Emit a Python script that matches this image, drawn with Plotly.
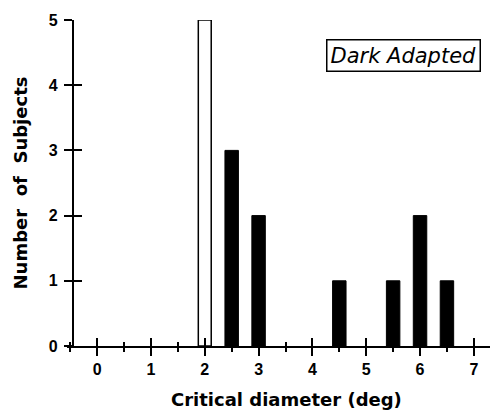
import plotly.graph_objects as go

# Data
open_x = [2.0]
open_y = [5]
dark_x = [2.5, 3.0, 4.5, 5.5, 6.0, 6.5]
dark_y = [3, 2, 1, 1, 2, 1]
x_ticks = [0, 1, 2, 3, 4, 5, 6, 7]
y_ticks = [0, 1, 2, 3, 4, 5]

XR = [-0.56, 7.3]
Y_AXIS_AT = -0.45
YR = [0, 5]
ypos = (Y_AXIS_AT - XR[0]) / (XR[1] - XR[0])

fig = go.Figure()
fig.add_trace(go.Bar(x=open_x, y=open_y, width=0.24,
                     marker=dict(color="white", line=dict(color="black", width=1.5)),
                     showlegend=False))
fig.add_trace(go.Bar(x=dark_x, y=dark_y, width=0.25,
                     marker=dict(color="black", line=dict(color="black", width=1)),
                     showlegend=False))

titlefont = dict(family="DejaVu Sans", size=18, color="black", weight="bold")
tickfont = dict(family="Liberation Sans, Arial", size=16, color="black", weight="bold")

fig.update_layout(
    width=490, height=412,
    margin=dict(l=67, r=0, t=20, b=66),
    paper_bgcolor="white", plot_bgcolor="white",
    barmode="overlay",
    xaxis=dict(range=XR, tickvals=x_ticks, ticktext=[str(v) for v in x_ticks],
               ticks="outside", ticklen=8, tickwidth=1.5, tickcolor="black",
               minor=dict(dtick=0.5, tick0=0, ticks="outside", ticklen=4, tickwidth=1.5, tickcolor="black"),
               showline=True, linecolor="black", linewidth=2,
               showgrid=False, zeroline=False, tickfont=tickfont),
    xaxis2=dict(range=XR, overlaying="x", anchor="y", side="bottom",
                tickvals=x_ticks, ticks="inside", ticklen=8, tickwidth=1.5, tickcolor="black",
                minor=dict(dtick=0.5, tick0=0, ticks="inside", ticklen=4, tickwidth=1.5, tickcolor="black"),
                showticklabels=False, showline=False, showgrid=False, zeroline=False),
    yaxis=dict(range=YR, tickvals=y_ticks, ticktext=[str(v) for v in y_ticks],
               anchor="free", position=ypos,
               ticks="outside", ticklen=8, tickwidth=1.5, tickcolor="black",
               showline=True, linecolor="black", linewidth=2,
               showgrid=False, zeroline=False, ticklabelstandoff=3, tickfont=tickfont,
               title=dict(text="Number&nbsp; of&nbsp; Subjects", font=titlefont, standoff=16)),
    yaxis2=dict(range=YR, overlaying="y", anchor="free", position=ypos, side="left",
                tickvals=y_ticks, ticks="inside", ticklen=8, tickwidth=1.5, tickcolor="black",
                showticklabels=False, showline=False, showgrid=False, zeroline=False),
)

# invisible trace to activate overlay axes
fig.add_trace(go.Scatter(x=[None], y=[None], xaxis="x2", yaxis="y2", showlegend=False))

# x-axis title (slightly right of plot-area centre, as in the reference)
fig.add_annotation(x=0.52, y=-0.163, xref="paper", yref="paper", yanchor="middle",
                   text="Critical diameter (deg)", showarrow=False, font=titlefont)

fig.add_annotation(x=5.7, y=4.46, xref="x", yref="y", text="<i>Dark Adapted</i>",
                   showarrow=False, font=dict(family="DejaVu Sans", size=21, color="black"),
                   bordercolor="black", borderwidth=1.5, borderpad=3, bgcolor="white")

fig.write_html("out.html")
